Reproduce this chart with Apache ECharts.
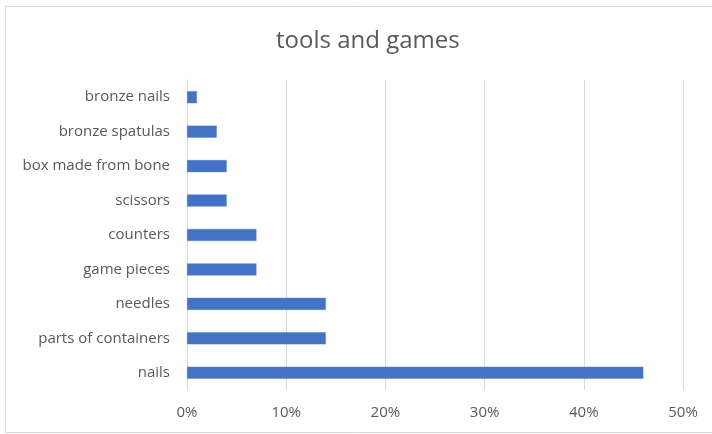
<!DOCTYPE html>
<html>
<head>
<meta charset="utf-8">
<script src="https://cdn.jsdelivr.net/npm/echarts@6/dist/echarts.min.js"></script>
<style>
  html, body { margin: 0; padding: 0; background: #ffffff; }
  #chart { width: 712px; height: 434px; }
</style>
</head>
<body>
<div id="chart"></div>
<script>
// Categories listed bottom-to-top (ECharts category axis starts at the bottom)
const categories = [
  'nails',
  'parts of containers',
  'needles',
  'game pieces',
  'counters',
  'scissors',
  'box made from bone',
  'bronze spatulas',
  'bronze nails'
];
// Share of finds, in percent
const shares = [46, 14, 14, 7, 7, 4, 4, 3, 1];
const xTicks = [0, 10, 20, 30, 40, 50];

const FONT = '"Open Sans", "Noto Sans", sans-serif';
const TEXT = '#595959';

const chart = echarts.init(document.getElementById('chart'), null, { renderer: 'canvas' });
chart.setOption({
  backgroundColor: '#ffffff',
  animation: false,
  title: {
    text: 'tools and games',
    left: 271,
    top: 24,
    textStyle: { fontFamily: FONT, fontSize: 24, fontWeight: 'normal', color: TEXT }
  },
  graphic: [{
    type: 'rect',
    shape: { x: 5.5, y: 6.5, width: 720, height: 426 },
    style: { fill: 'none', stroke: '#d9d9d9', lineWidth: 1 },
    silent: true
  }],
  grid: { left: 187, right: 29, top: 80, bottom: 44, containLabel: false },
  xAxis: {
    type: 'value',
    min: xTicks[0],
    max: xTicks[xTicks.length - 1],
    interval: 10,
    axisLine: { show: false },
    axisTick: { show: false },
    splitLine: { show: true, lineStyle: { color: '#d9d9d9', width: 1 } },
    axisLabel: {
      formatter: v => v + '%',
      margin: 15,
      fontFamily: FONT, fontSize: 15, color: TEXT
    }
  },
  yAxis: {
    type: 'category',
    data: categories,
    axisLine: { show: true, lineStyle: { color: '#d9d9d9', width: 1 } },
    axisTick: { show: false },
    axisLabel: { margin: 17, fontFamily: FONT, fontSize: 15, color: TEXT }
  },
  series: [{
    type: 'bar',
    data: shares,
    barWidth: '35%',
    itemStyle: { color: '#4472c4', borderColor: '#5b85d0', borderWidth: 0.5 }
  }]
});
</script>
</body>
</html>
